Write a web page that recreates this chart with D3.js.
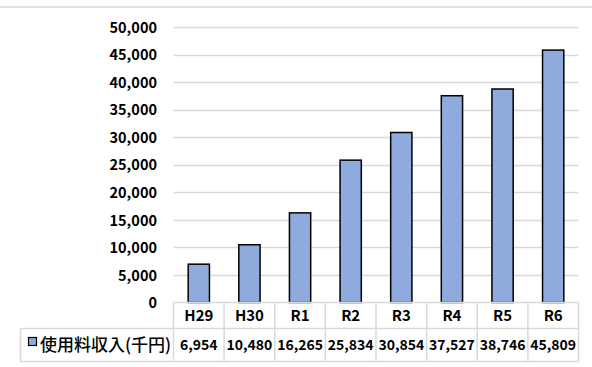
<!DOCTYPE html>
<html>
<head>
<meta charset="utf-8">
<script src="https://cdn.jsdelivr.net/npm/d3@7"></script>
<style>
  html, body { margin: 0; padding: 0; background: #fff; }
  svg { display: block; }
  text { font-family: "Noto Sans CJK JP", "Noto Sans", sans-serif; font-weight: 700; fill: #000; }
</style>
</head>
<body>
<svg id="chart" width="592" height="367"></svg>
<script>
// Fiscal years and usage fee revenue (thousand yen)
const categories = ["H29", "H30", "R1", "R2", "R3", "R4", "R5", "R6"];
const revenue = [6954, 10480, 16265, 25834, 30854, 37527, 38746, 45809];
const seriesName = "使用料収入(千円)";
const yTicks = [0, 5000, 10000, 15000, 20000, 25000, 30000, 35000, 40000, 45000, 50000];

const svg = d3.select("#chart");
const W = 592;

const plotLeft = 173.5, plotRight = 578.5;
const plotTop = 27, plotBottom = 302.5;
const row1Bottom = 328.5, row2Bottom = 361.5;
const tableLeft = 20.5;

const gridColor = "#d9d9d9";
const barFill = "#8faadc";

// outer frame top edge
svg.append("line")
  .attr("x1", 0).attr("x2", W).attr("y1", 7).attr("y2", 7)
  .attr("stroke", gridColor).attr("stroke-width", 1.5);

const x = d3.scaleBand().domain(categories).range([plotLeft, plotRight])
  .paddingInner(0.58).paddingOuter(0.29);
const col = d3.scaleBand().domain(categories).range([plotLeft, plotRight]).padding(0);
const y = d3.scaleLinear().domain([0, 50000]).range([plotBottom, plotTop]);

// horizontal gridlines
svg.append("g").selectAll("line").data(yTicks.filter(d => d > 0)).join("line")
  .attr("x1", plotLeft).attr("x2", plotRight)
  .attr("y1", d => Math.round(y(d)) + 0.5).attr("y2", d => Math.round(y(d)) + 0.5)
  .attr("stroke", gridColor).attr("stroke-width", 1.5);

// value axis labels
const yAxis = d3.axisLeft(y).tickValues(yTicks).tickSize(0).tickPadding(0)
  .tickFormat(d3.format(","));
const gy = svg.append("g").attr("transform", `translate(157,0)`).call(yAxis);
gy.select(".domain").remove();
gy.selectAll("text")
  .style("font-family", "\"Noto Sans CJK JP\", sans-serif")
  .style("font-weight", 700)
  .style("font-size", "14.5px")
  .attr("dy", "0.36em");

// bars
svg.append("g").selectAll("rect").data(categories).join("rect")
  .attr("x", d => x(d))
  .attr("width", x.bandwidth())
  .attr("y", (d, i) => y(revenue[i]))
  .attr("height", (d, i) => y(0) - y(revenue[i]))
  .attr("fill", barFill)
  .attr("stroke", "#000").attr("stroke-width", 1.5);

// data table
const tbl = svg.append("g").attr("stroke", gridColor).attr("stroke-width", 1.5).attr("fill", "none");
tbl.append("line").attr("x1", plotLeft).attr("x2", plotRight).attr("y1", plotBottom).attr("y2", plotBottom);
tbl.append("line").attr("x1", tableLeft).attr("x2", plotRight).attr("y1", row1Bottom).attr("y2", row1Bottom);
tbl.append("line").attr("x1", tableLeft).attr("x2", plotRight).attr("y1", row2Bottom).attr("y2", row2Bottom);
tbl.append("line").attr("x1", tableLeft).attr("x2", tableLeft).attr("y1", row1Bottom).attr("y2", row2Bottom);
tbl.selectAll(".v").data(categories.concat(["_end"])).join("line")
  .attr("x1", (d, i) => plotLeft + i * col.step())
  .attr("x2", (d, i) => plotLeft + i * col.step())
  .attr("y1", plotBottom).attr("y2", row2Bottom);

svg.append("g").selectAll("text").data(categories).join("text")
  .attr("x", d => col(d) + col.bandwidth() / 2)
  .attr("y", (plotBottom + row1Bottom) / 2)
  .attr("dy", "0.36em")
  .attr("text-anchor", "middle")
  .style("font-size", "15px")
  .text(d => d);

svg.append("g").selectAll("text").data(revenue).join("text")
  .attr("x", (d, i) => col(categories[i]) + col.bandwidth() / 2)
  .attr("y", (row1Bottom + row2Bottom) / 2)
  .attr("dy", "0.36em")
  .attr("text-anchor", "middle")
  .style("font-size", "14px")
  .text(d => d3.format(",")(d));

// legend key and series name
svg.append("rect")
  .attr("x", 28.5).attr("y", 337.5).attr("width", 8).attr("height", 8)
  .attr("fill", barFill).attr("stroke", "#000").attr("stroke-width", 1.2);
svg.append("text")
  .attr("x", 40).attr("y", (row1Bottom + row2Bottom) / 2)
  .attr("dy", "0.36em")
  .style("font-size", "17px")
  .style("font-weight", 500)
  .text(seriesName);
</script>
</body>
</html>
